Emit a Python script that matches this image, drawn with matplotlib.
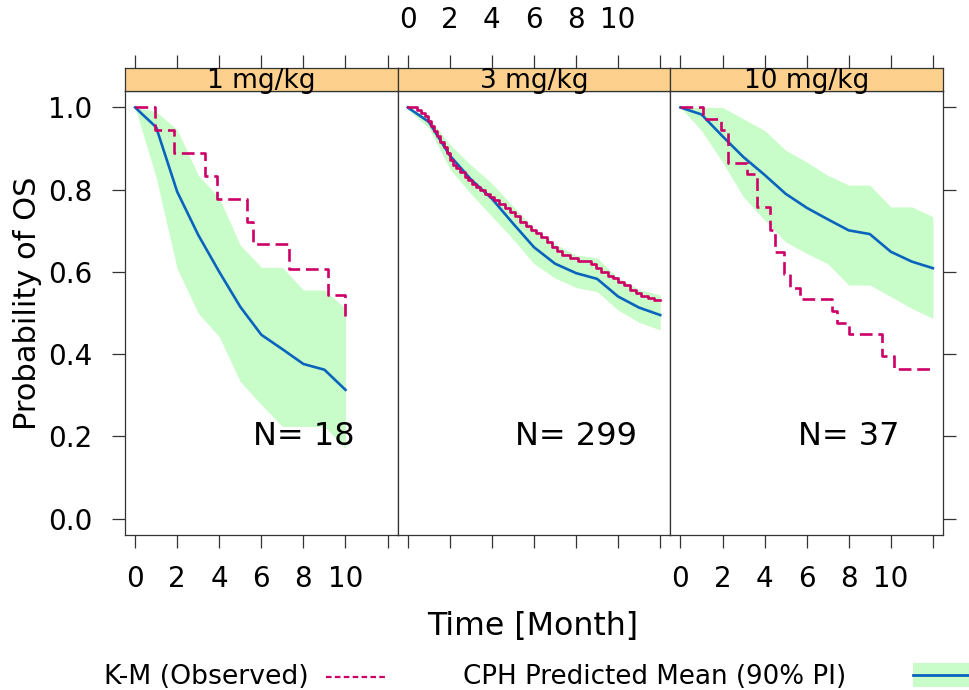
import matplotlib
matplotlib.use("Agg")
import matplotlib.pyplot as plt
from matplotlib.lines import Line2D
from matplotlib.patches import Rectangle

plt.rcParams['font.family'] = ['DejaVu Sans']

# ---- data -------------------------------------------------------------
panels = ["1 mg/kg", "3 mg/kg", "10 mg/kg"]
n_subjects = [18, 299, 37]

# Kaplan-Meier estimates (step times in months, survival after each step)
km_time_1 = [0, 0.95, 1.83, 3.3, 3.89, 5.32, 5.6, 7.3, 9.16, 10.0]
km_surv_1 = [1.0, 0.944, 0.889, 0.833, 0.778, 0.722, 0.667, 0.606, 0.545, 0.483]

km_time_3 = [0, 0.45, 0.65, 0.8, 0.95, 1.1, 1.25, 1.4, 1.55, 1.7,
             1.85, 2.0, 2.15, 2.3, 2.5, 2.7, 2.85, 3.05, 3.25, 3.45,
             3.65, 3.9, 4.1, 4.35, 4.6, 4.85, 5.1, 5.35, 5.6, 5.85,
             6.1, 6.35, 6.6, 6.85, 7.1, 7.35, 7.7, 8.1, 8.7, 8.95,
             9.2, 9.5, 9.75, 10.0, 10.3, 10.55, 10.85, 11.1, 11.4, 11.7, 12.0]
km_surv_3 = [1.0, 0.993, 0.987, 0.978, 0.966, 0.955, 0.943, 0.93, 0.916, 0.905,
             0.89, 0.872, 0.86, 0.852, 0.843, 0.832, 0.823, 0.815, 0.806, 0.8,
             0.79, 0.782, 0.775, 0.765, 0.755, 0.745, 0.735, 0.722, 0.712, 0.702,
             0.695, 0.684, 0.672, 0.66, 0.65, 0.642, 0.633, 0.627, 0.62, 0.61,
             0.6, 0.591, 0.584, 0.575, 0.567, 0.556, 0.548, 0.542, 0.536, 0.531, 0.531]

km_time_10 = [0, 1.05, 1.92, 2.27, 3.15, 3.62, 4.26, 4.5, 4.93, 5.21, 5.69,
              7.2, 7.44, 8.0, 9.59, 10.14, 12.0]
km_surv_10 = [1.0, 0.973, 0.946, 0.865, 0.838, 0.757, 0.703, 0.649, 0.595, 0.56, 0.533,
              0.505, 0.476, 0.449, 0.396, 0.364, 0.364]

# Cox PH predicted mean and 90% prediction interval
pred_time_1 = [0, 1, 2, 3, 4, 5, 6, 7, 8, 9, 10]
pred_mean_1 = [1.0, 0.952, 0.795, 0.69, 0.6, 0.515, 0.447, 0.412, 0.376, 0.362, 0.313]
pred_lo_1 = [1.0, 0.83, 0.608, 0.5, 0.442, 0.333, 0.277, 0.224, 0.224, 0.224, 0.171]
pred_hi_1 = [1.0, 0.99, 0.946, 0.835, 0.78, 0.665, 0.611, 0.611, 0.556, 0.556, 0.511]

pred_time_3 = [0, 1, 2, 3, 4, 5, 6, 7, 8, 9, 10, 11, 12]
pred_mean_3 = [1.0, 0.965, 0.883, 0.825, 0.778, 0.718, 0.66, 0.62, 0.597, 0.583, 0.54, 0.513, 0.495]
pred_lo_3 = [0.995, 0.95, 0.85, 0.79, 0.735, 0.68, 0.62, 0.585, 0.562, 0.552, 0.507, 0.477, 0.459]
pred_hi_3 = [1.0, 0.975, 0.91, 0.86, 0.815, 0.76, 0.705, 0.668, 0.641, 0.634, 0.585, 0.557, 0.544]

pred_time_10 = [0, 1, 2, 3, 4, 5, 6, 7, 8, 9, 10, 11, 12]
pred_mean_10 = [1.0, 0.983, 0.93, 0.879, 0.836, 0.79, 0.756, 0.728, 0.701, 0.692, 0.649, 0.625, 0.609]
pred_lo_10 = [1.0, 0.944, 0.867, 0.782, 0.726, 0.673, 0.645, 0.62, 0.568, 0.568, 0.54, 0.511, 0.487]
pred_hi_10 = [1.0, 1.0, 1.0, 0.972, 0.944, 0.896, 0.867, 0.835, 0.811, 0.811, 0.758, 0.758, 0.734]

x_ticks = [0, 2, 4, 6, 8, 10, 12]
x_tick_labels = ["0", "2", "4", "6", "8", "10", ""]
y_ticks = [0.0, 0.2, 0.4, 0.6, 0.8, 1.0]
y_tick_labels = ["0.0", "0.2", "0.4", "0.6", "0.8", "1.0"]

km_times = [km_time_1, km_time_3, km_time_10]
km_survs = [km_surv_1, km_surv_3, km_surv_10]
pred_times = [pred_time_1, pred_time_3, pred_time_10]
pred_means = [pred_mean_1, pred_mean_3, pred_mean_10]
pred_los = [pred_lo_1, pred_lo_3, pred_lo_10]
pred_his = [pred_hi_1, pred_hi_3, pred_hi_10]

# ---- styling ----------------------------------------------------------
W, H = 970, 690
STRIP_COL = "#FDD08E"
BAND_COL = "#C8FCC8"
MEAN_COL = "#0A64BE"
KM_COL = "#CC0066"
FRAME_COL = "#333333"
TICK_LEN = 9.5
FS_TICK = 20

fig = plt.figure(figsize=(W / 100, H / 100), dpi=100)


def fx(px):
    return px / W


def fy(py):
    return 1 - py / H


left, right = 125, 943
pw = (right - left) / 3
plot_top, plot_bot = 91, 535
strip_top = 68

for i in range(3):
    x0 = left + i * pw
    ax = fig.add_axes([fx(x0), fy(plot_bot), pw / W, (plot_bot - plot_top) / H])
    st = fig.add_axes([fx(x0), fy(plot_top), pw / W, (plot_top - strip_top) / H])

    ax.fill_between(pred_times[i], pred_los[i], pred_his[i],
                    color=BAND_COL, linewidth=0, zorder=1)
    ax.plot(pred_times[i], pred_means[i], color=MEAN_COL, lw=1.9, zorder=3)
    if i == 1:
        ax.step(km_times[i], km_survs[i], where="post", color=KM_COL,
                lw=1.9, zorder=4)
    else:
        ax.step(km_times[i], km_survs[i], where="post", color=KM_COL,
                lw=1.9, linestyle=(0, (4.8, 2.2)), zorder=4)
    ax.text(8, 0.2, f"N= {n_subjects[i]}", ha="center", va="center",
            fontsize=23)

    ax.set_xlim(-0.48, 12.48)
    ax.set_ylim(-0.04, 1.04)
    for s in ax.spines.values():
        s.set_color(FRAME_COL)
        s.set_linewidth(0.9)

    # bottom ticks
    ax.set_xticks(x_ticks)
    if i != 1:
        ax.set_xticklabels(x_tick_labels, fontsize=FS_TICK)
    else:
        ax.set_xticklabels([])
    ax.tick_params(axis="x", direction="out", length=TICK_LEN, width=0.9,
                   color=FRAME_COL, pad=12, bottom=True, top=False)

    # y ticks: left on first panel, right on last
    ax.set_yticks(y_ticks)
    if i == 0:
        ax.set_yticklabels(y_tick_labels, fontsize=FS_TICK)
        ax.tick_params(axis="y", direction="out", length=TICK_LEN, width=0.9,
                       color=FRAME_COL, pad=14, left=True, right=False)
    elif i == 2:
        ax.tick_params(axis="y", direction="out", length=TICK_LEN, width=0.9,
                       color=FRAME_COL, left=False, right=True,
                       labelleft=False, labelright=False)
    else:
        ax.tick_params(axis="y", left=False, right=False, labelleft=False)

    # strip with panel title and top ticks
    st.set_facecolor(STRIP_COL)
    st.set_xlim(-0.48, 12.48)
    st.set_ylim(0, 1)
    st.set_yticks([])
    st.xaxis.tick_top()
    st.set_xticks(x_ticks)
    if i == 1:
        st.set_xticklabels(x_tick_labels, fontsize=FS_TICK)
    else:
        st.set_xticklabels([])
    st.tick_params(axis="x", direction="out", length=TICK_LEN, width=0.9,
                   color=FRAME_COL, pad=15, top=True, bottom=False)
    for s in st.spines.values():
        s.set_color(FRAME_COL)
        s.set_linewidth(0.9)
    st.text(0.5, 0.15, panels[i], transform=st.transAxes, ha="center",
            va="baseline", fontsize=19)

# axis titles
fig.text(fx(28), fy(303), "Probability of OS", rotation=90, ha="center",
         va="center", fontsize=22)
fig.text(fx(533), fy(627), "Time [Month]", ha="center", va="center",
         fontsize=22.8)

# legend row
ly = fy(677)
fig.text(fx(309), ly, "K-M (Observed)", ha="right", va="center", fontsize=19.2)
fig.add_artist(Line2D([fx(326), fx(388)], [ly, ly], color=KM_COL, lw=1.6,
                      linestyle=(0, (2.5, 1.5)), transform=fig.transFigure))
fig.text(fx(463), ly, "CPH Predicted Mean (90% PI)", ha="left", va="center",
         fontsize=18.8)
fig.add_artist(Rectangle((fx(913), fy(687)), fx(60), 24 / H, facecolor=BAND_COL,
                         edgecolor="none", transform=fig.transFigure))
fig.add_artist(Line2D([fx(913), fx(975)], [fy(675), fy(675)], color=MEAN_COL,
                      lw=2, transform=fig.transFigure))

fig.savefig("out.png", dpi=100)
